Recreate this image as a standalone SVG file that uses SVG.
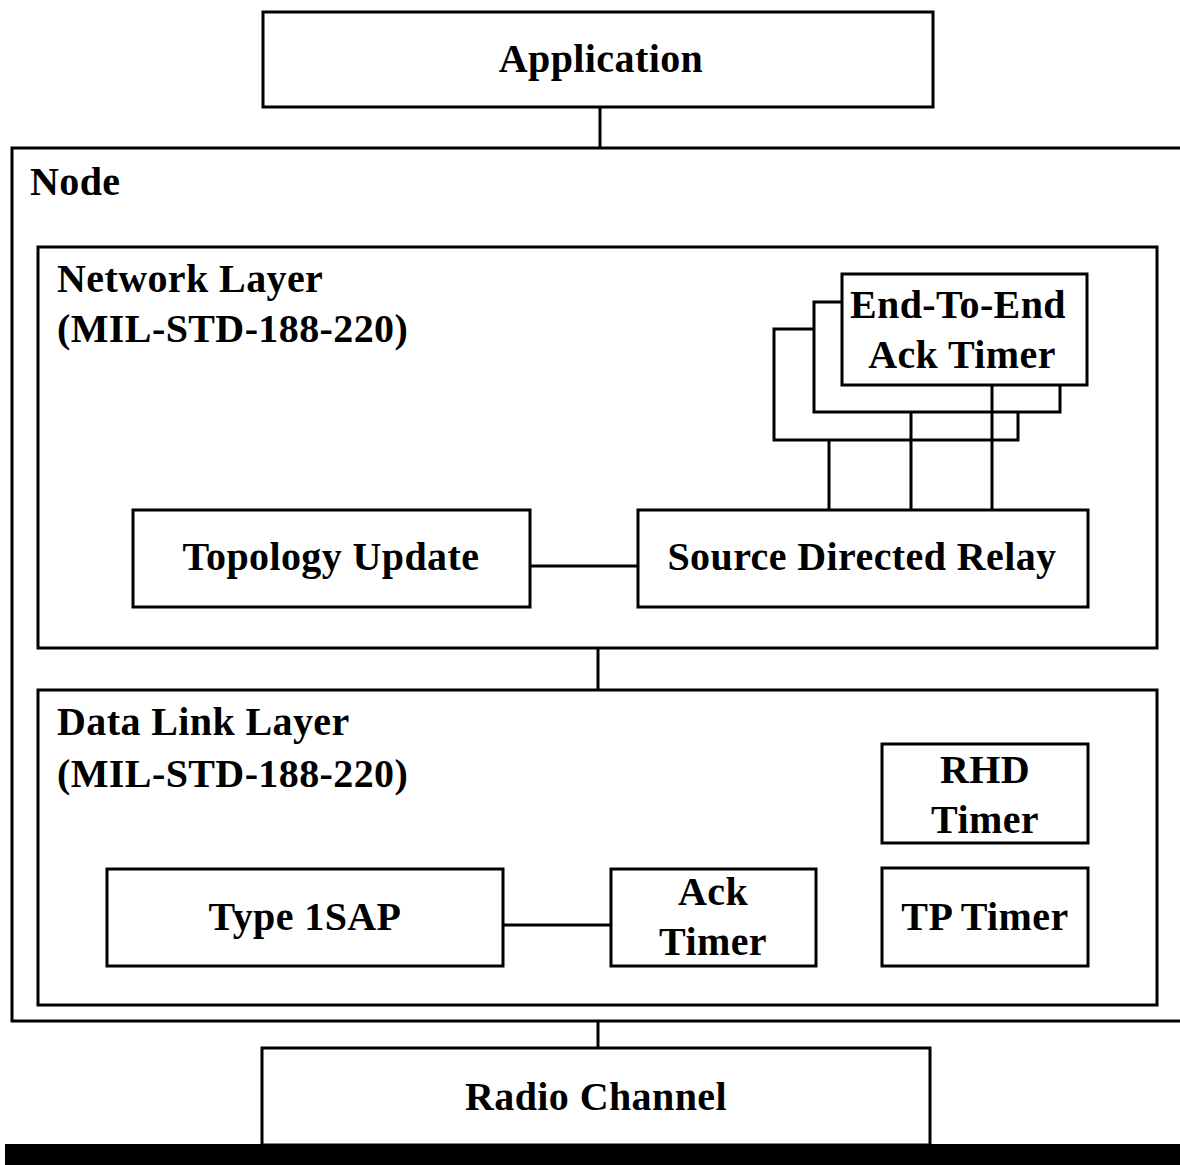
<svg xmlns="http://www.w3.org/2000/svg" width="1180" height="1165" viewBox="0 0 1180 1165">
<style>
.b{fill:#fff;stroke:#000;stroke-width:3}
.c{fill:none;stroke:#000;stroke-width:3}
text{font-family:"Liberation Serif","Times New Roman",serif;font-weight:bold;font-size:40px;letter-spacing:0.4px;fill:#000}
.m{text-anchor:middle}
</style>
<rect width="1180" height="1165" fill="#fff"/>
<g id="application"><rect class="b" x="263" y="12" width="670" height="95"/><text class="m" x="601" y="72">Application</text></g>
<g id="node"><rect class="b" x="12" y="148" width="1180" height="873"/><text x="30" y="195">Node</text></g>
<g id="network-layer"><rect class="b" x="38" y="247" width="1119" height="401"/><text x="57" y="292">Network Layer</text><text x="57" y="342">(MIL-STD-188-220)</text></g>
<g id="timer3"><rect class="b" x="774" y="329" width="244" height="111"/></g>
<g id="timer2"><rect class="b" x="814" y="302" width="246" height="110"/></g>
<g id="end-to-end-ack-timer"><rect class="b" x="842" y="274" width="245" height="111"/><text class="m" x="958" y="318">End-To-End</text><text class="m" x="962" y="368">Ack Timer</text></g>
<g id="topology-update"><rect class="b" x="133" y="510" width="397" height="97"/><text class="m" x="331" y="570">Topology Update</text></g>
<g id="source-directed-relay"><rect class="b" x="638" y="510" width="450" height="97"/><text class="m" x="862" y="570">Source Directed Relay</text></g>
<g id="data-link-layer"><rect class="b" x="38" y="690" width="1119" height="315"/><text x="57" y="735">Data Link Layer</text><text x="57" y="787">(MIL-STD-188-220)</text></g>
<g id="rhd-timer"><rect class="b" x="882" y="744" width="206" height="99"/><text class="m" x="985" y="783">RHD</text><text class="m" x="985" y="833">Timer</text></g>
<g id="tp-timer"><rect class="b" x="882" y="868" width="206" height="98"/><text class="m" x="985" y="930">TP Timer</text></g>
<g id="type-1sap"><rect class="b" x="107" y="869" width="396" height="97"/><text class="m" x="305" y="930">Type 1SAP</text></g>
<g id="ack-timer"><rect class="b" x="611" y="869" width="205" height="97"/><text class="m" x="713" y="905">Ack</text><text class="m" x="713" y="955">Timer</text></g>
<g id="radio-channel"><rect class="b" x="262" y="1048" width="668" height="97"/><text class="m" x="596" y="1110">Radio Channel</text><rect x="5" y="1144" width="1180" height="25" fill="#000"/></g>
<g id="connectors">
<path class="c" d="M600 107V148"/>
<path class="c" d="M829 440V510M911 412V510M992 385V510"/>
<path class="c" d="M530 566H638"/>
<path class="c" d="M598 648V690"/>
<path class="c" d="M503 925H611"/>
<path class="c" d="M598 1021V1048"/>
</g>
</svg>
